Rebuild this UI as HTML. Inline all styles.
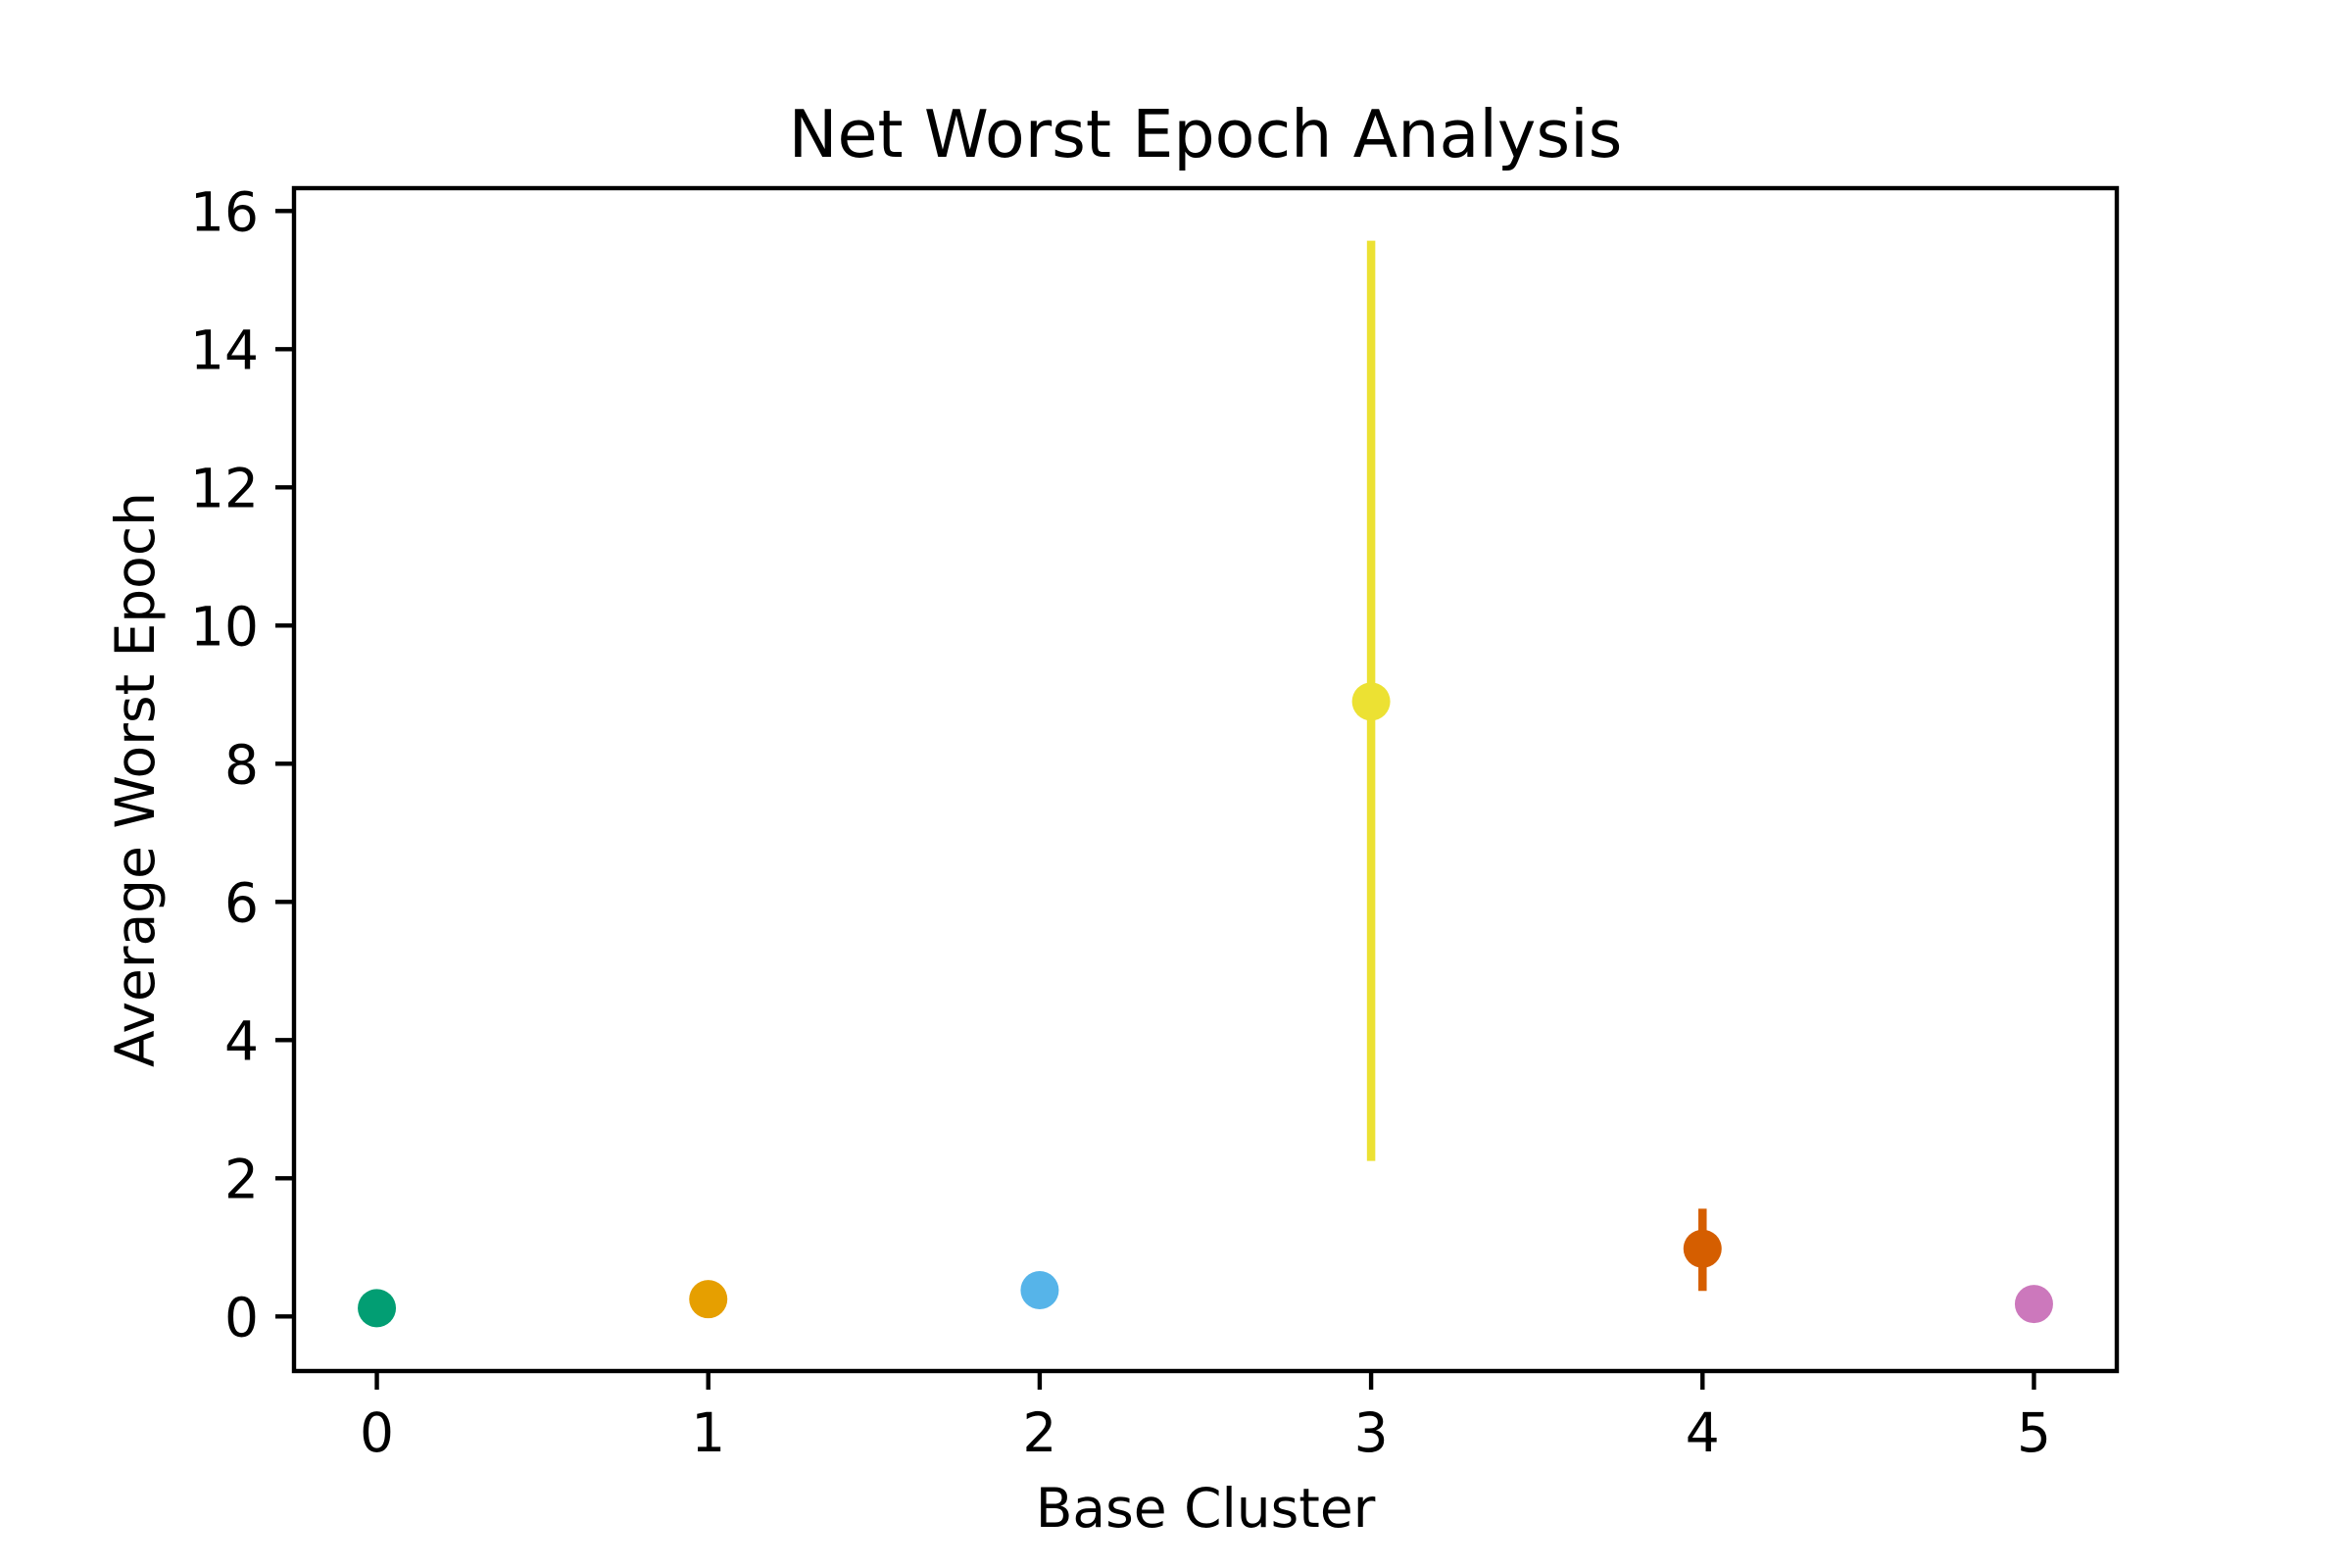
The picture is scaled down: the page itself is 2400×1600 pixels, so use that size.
<!DOCTYPE html>
<html><head><meta charset="utf-8"><style>
html,body{margin:0;padding:0;background:#fff}
svg{display:block}
text{font-family:"DejaVu Sans","Liberation Sans",sans-serif;fill:#000}
</style></head><body>
<svg id="chart" width="2400" height="1600" viewBox="0 0 2400 1600" xmlns="http://www.w3.org/2000/svg">
<rect width="2400" height="1600" fill="#fff"/>
<g id="marks"></g>
<g id="axes"></g>
</svg>
<script>
const categories = [0, 1, 2, 3, 4, 5];
const means = [0.12, 0.25, 0.38, 8.9, 0.98, 0.18];
const errLow = [0.12, 0.25, 0.38, 2.25, 0.37, 0.18];
const errHigh = [0.12, 0.25, 0.38, 15.57, 1.56, 0.18];
const colors = ["#029e73", "#e69f00", "#56b4e9", "#ece133", "#d55e00", "#cc78bc"];
const yTicks = [0, 2, 4, 6, 8, 10, 12, 14, 16];
const xTicks = [0, 1, 2, 3, 4, 5];

const L = 300, R = 2160, T = 192, B = 1399;
const xMin = -0.25, xMax = 5.25, yMin = -0.79, yMax = 16.33;
const xs = v => L + (v - xMin) / (xMax - xMin) * (R - L);
const ys = v => B - (v - yMin) / (yMax - yMin) * (B - T);
const NS = "http://www.w3.org/2000/svg";
function mk(tag, attrs, parent) {
  const e = document.createElementNS(NS, tag);
  for (const k in attrs) e.setAttribute(k, attrs[k]);
  parent.appendChild(e);
  return e;
}
const marks = document.getElementById('marks');
const axes = document.getElementById('axes');

categories.forEach((c, i) => {
  const x = xs(c);
  if (errHigh[i] - errLow[i] > 0.3) {
    const ln = mk('line', {x1: x, x2: x, y1: ys(errLow[i]), y2: ys(errHigh[i]), stroke: colors[i], 'stroke-width': 8.5}, marks);
    
    
  }
  const p = mk('circle', {cx: x, cy: ys(means[i]), r: 19.5, fill: colors[i]}, marks);
  
  
});

const frame = mk('rect', {x: L, y: T, width: R - L, height: B - T, fill: 'none', stroke: '#000', 'stroke-width': 4.4}, axes);



yTicks.forEach(v => {
  const y = ys(v);
  const t = mk('line', {x1: L - 19, x2: L, y1: y, y2: y, stroke: '#000', 'stroke-width': 4.4}, axes);
  
  
  const tx = mk('text', {x: L - 36, y: y + 20, 'text-anchor': 'end', 'font-size': 55}, axes);
  tx.textContent = v;
  
  
});
xTicks.forEach(v => {
  const x = xs(v);
  const t = mk('line', {x1: x, x2: x, y1: B, y2: B + 19, stroke: '#000', 'stroke-width': 4.4}, axes);
  
  
  const tx = mk('text', {x: x, y: 1481, 'text-anchor': 'middle', 'font-size': 55}, axes);
  tx.textContent = v;
  
  
});
const title = mk('text', {x: (L + R) / 2, y: 160, 'text-anchor': 'middle', 'font-size': 66.7}, axes);
title.textContent = 'Net Worst Epoch Analysis';


const xl = mk('text', {x: (L + R) / 2, y: 1558, 'text-anchor': 'middle', 'font-size': 55}, axes);
xl.textContent = 'Base Cluster';


const yl = mk('text', {x: 0, y: 0, 'text-anchor': 'middle', 'font-size': 55, transform: 'translate(157,' + ((T + B) / 2) + ') rotate(-90)'}, axes);
yl.textContent = 'Average Worst Epoch';


</script>
</body></html>
